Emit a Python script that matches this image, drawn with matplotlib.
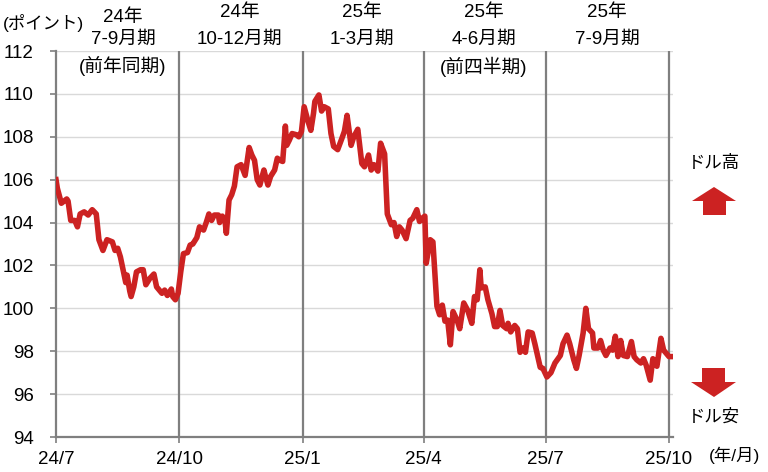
import numpy as np
import pandas as pd
import matplotlib
matplotlib.use("Agg")
import matplotlib.pyplot as plt
import matplotlib.dates as mdates
from matplotlib.patches import Polygon

plt.rcParams['font.family'] = ['Liberation Sans', 'Noto Sans CJK JP', 'DejaVu Sans']

# dollar index
dates = ["2024-07-01", "2024-07-02", "2024-07-05", "2024-07-09", "2024-07-10", "2024-07-12",
         "2024-07-15", "2024-07-17", "2024-07-19", "2024-07-22", "2024-07-25", "2024-07-28",
         "2024-07-31", "2024-08-02", "2024-08-05", "2024-08-08", "2024-08-12", "2024-08-14",
         "2024-08-16", "2024-08-18", "2024-08-20", "2024-08-22", "2024-08-23", "2024-08-25",
         "2024-08-26", "2024-08-28", "2024-08-30", "2024-09-02", "2024-09-04", "2024-09-06",
         "2024-09-09", "2024-09-12", "2024-09-14", "2024-09-18", "2024-09-20", "2024-09-22",
         "2024-09-25", "2024-09-26", "2024-09-28", "2024-09-30", "2024-10-02", "2024-10-04",
         "2024-10-07", "2024-10-09", "2024-10-11", "2024-10-14", "2024-10-16", "2024-10-19",
         "2024-10-21", "2024-10-23", "2024-10-25", "2024-10-27", "2024-10-30", "2024-10-31",
         "2024-11-02", "2024-11-04", "2024-11-05", "2024-11-07", "2024-11-09", "2024-11-11",
         "2024-11-13", "2024-11-16", "2024-11-19", "2024-11-22", "2024-11-24", "2024-11-26",
         "2024-11-28", "2024-11-30", "2024-12-03", "2024-12-04", "2024-12-06", "2024-12-08",
         "2024-12-11", "2024-12-13", "2024-12-15", "2024-12-17", "2024-12-19", "2024-12-20",
         "2024-12-22", "2024-12-24", "2024-12-27", "2024-12-29", "2024-12-31", "2025-01-02",
         "2025-01-05", "2025-01-07", "2025-01-09", "2025-01-10", "2025-01-13", "2025-01-15",
         "2025-01-17", "2025-01-20", "2025-01-22", "2025-01-24", "2025-01-27", "2025-01-30",
         "2025-02-01", "2025-02-03", "2025-02-06", "2025-02-08", "2025-02-11", "2025-02-14",
         "2025-02-16", "2025-02-19", "2025-02-21", "2025-02-23", "2025-02-26", "2025-02-28",
         "2025-03-03", "2025-03-05", "2025-03-08", "2025-03-10", "2025-03-12", "2025-03-14",
         "2025-03-16", "2025-03-19", "2025-03-22", "2025-03-24", "2025-03-27", "2025-03-29",
         "2025-03-31", "2025-04-02", "2025-04-03", "2025-04-06", "2025-04-08", "2025-04-11",
         "2025-04-13", "2025-04-15", "2025-04-17", "2025-04-19", "2025-04-21", "2025-04-23",
         "2025-04-26", "2025-04-28", "2025-05-01", "2025-05-04", "2025-05-07", "2025-05-09",
         "2025-05-11", "2025-05-13", "2025-05-14", "2025-05-17", "2025-05-19", "2025-05-22",
         "2025-05-24", "2025-05-26", "2025-05-28", "2025-05-30", "2025-06-02", "2025-06-03",
         "2025-06-05", "2025-06-08", "2025-06-10", "2025-06-12", "2025-06-14", "2025-06-16",
         "2025-06-18", "2025-06-21", "2025-06-23", "2025-06-25", "2025-06-27", "2025-06-29",
         "2025-07-02", "2025-07-05", "2025-07-08", "2025-07-12", "2025-07-14", "2025-07-17",
         "2025-07-19", "2025-07-22", "2025-07-24", "2025-07-26", "2025-07-29", "2025-07-31",
         "2025-08-02", "2025-08-05", "2025-08-06", "2025-08-09", "2025-08-11", "2025-08-13",
         "2025-08-15", "2025-08-18", "2025-08-20", "2025-08-22", "2025-08-24", "2025-08-26",
         "2025-08-28", "2025-08-31", "2025-09-03", "2025-09-05", "2025-09-07", "2025-09-10",
         "2025-09-12", "2025-09-14", "2025-09-17", "2025-09-19", "2025-09-22", "2025-09-25",
         "2025-09-27", "2025-10-01", "2025-10-04"]
values = [106.0, 105.6, 104.9, 105.1, 105.0, 104.1,
          104.1, 103.8, 104.4, 104.5, 104.35, 104.6,
          104.4, 103.2, 102.7, 103.2, 103.1, 102.7,
          102.8, 102.4, 101.8, 101.2, 101.55, 100.8,
          100.55, 101.0, 101.7, 101.8, 101.8, 101.1,
          101.4, 101.6, 101.0, 100.7, 100.85, 100.6,
          100.9, 100.55, 100.4, 100.7, 101.7, 102.55,
          102.6, 102.95, 103.0, 103.3, 103.8, 103.65,
          104.0, 104.4, 104.1, 104.35, 104.35, 104.0,
          104.3, 104.1, 103.5, 105.05, 105.3, 105.7,
          106.6, 106.7, 106.2, 107.5, 107.15, 106.9,
          106.0, 105.75, 106.45, 106.2, 105.75, 106.15,
          106.45, 107.0, 106.9, 106.85, 108.5, 107.6,
          107.85, 108.15, 108.1, 108.0, 108.25, 109.4,
          108.7, 108.3, 109.1, 109.65, 109.95, 109.2,
          109.4, 109.3, 108.15, 107.55, 107.4, 107.9,
          108.25, 109.0, 107.6, 108.0, 108.35, 106.75,
          106.6, 107.15, 106.45, 106.7, 106.4, 107.7,
          107.2, 104.4, 103.9, 104.0, 103.35, 103.8,
          103.65, 103.25, 104.1, 104.2, 104.6, 104.05,
          104.2, 104.3, 102.1, 103.2, 103.1, 100.1,
          99.7, 100.15, 99.4, 99.45, 98.3, 99.85,
          99.45, 99.05, 100.25, 99.9, 99.3, 100.55,
          100.4, 101.8, 100.95, 101.0, 100.4, 99.75,
          99.15, 99.15, 99.9, 99.2, 99.05, 99.3,
          98.9, 99.2, 99.05, 97.95, 98.15, 97.95,
          98.9, 98.85, 98.35, 97.8, 97.25, 97.2,
          96.8, 97.0, 97.45, 97.8, 98.35, 98.75,
          98.35, 97.6, 97.2, 97.8, 98.85, 100.0,
          99.05, 98.85, 98.15, 98.15, 98.5, 98.05,
          97.8, 98.15, 98.05, 98.7, 97.75, 98.5,
          97.8, 97.75, 98.45, 97.75, 97.6, 97.45,
          97.65, 97.35, 96.65, 97.65, 97.3, 98.6,
          98.05, 97.75, 97.75]

quarter_starts = ["2024-07-01", "2024-10-01", "2025-01-01", "2025-04-01", "2025-07-01", "2025-10-01"]
quarter_labels = ["24/7", "24/10", "25/1", "25/4", "25/7", "25/10"]
header_x = ["2024-08-20", "2024-11-15", "2025-02-14", "2025-05-16", "2025-08-16"]
header_year = ["24年", "24年", "25年", "25年", "25年"]
header_period = ["7-9月期", "10-12月期", "1-3月期", "4-6月期", "7-9月期"]
header_note = ["(前年同期)", "", "", "(前四半期)", ""]

red = '#cc2222'
grey = '#7f7f7f'

x = pd.to_datetime(dates)
qx = pd.to_datetime(quarter_starts)
hx = pd.to_datetime(header_x)

fig = plt.figure(figsize=(7.68, 4.72), dpi=100)
ax = fig.add_axes([56/768, 1-437/472, (673-56)/768, (437-51)/472])

ax.set_ylim(94, 112)
ax.set_xlim(pd.Timestamp("2024-07-01"), pd.Timestamp("2025-10-04"))
ax.set_yticks(np.arange(94, 113, 2))
ax.grid(axis='y', color='#d9d9d9', linewidth=1)
ax.set_axisbelow(True)

for q in qx[1:]:
    ax.axvline(q, color=grey, linewidth=1.6, zorder=1)

ax.plot(x, values, color=red, linewidth=4.0, solid_joinstyle='round', zorder=3)

ax.set_xticks(qx)
ax.set_xticklabels(quarter_labels)
for s in ['top', 'right']:
    ax.spines[s].set_visible(False)
for s in ['left', 'bottom']:
    ax.spines[s].set_color(grey)
    ax.spines[s].set_linewidth(1.6)
ax.tick_params(axis='y', length=4, width=1.2, color=grey, pad=12, labelsize=13.5)
ax.tick_params(axis='x', length=4, width=1.2, color=grey, pad=6, labelsize=13.5)

# quarter headers
trans = ax.get_xaxis_transform()
for i in range(len(hx)):
    y1 = 1.088 if i == 0 else 1.101
    ax.text(hx[i], y1, header_year[i], transform=trans, ha='center', va='center', fontsize=13.5, clip_on=False)
    ax.text(hx[i], 1.030, header_period[i], transform=trans, ha='center', va='center', fontsize=13.5, clip_on=False)
    if header_note[i]:
        ax.text(hx[i], 0.960, header_note[i], transform=trans, ha='center', va='center', fontsize=13.5)


def fpt(px, py):
    return (px / 768, 1 - py / 472)


fig.text(*fpt(43, 23), "(ポイント)", ha='center', va='center', fontsize=12.5)
fig.text(*fpt(734, 455), "(年/月)", ha='center', va='center', fontsize=12.5)
fig.text(*fpt(714, 163), "ドル高", ha='center', va='center', fontsize=12.5)
fig.text(*fpt(714, 417), "ドル安", ha='center', va='center', fontsize=12.5)

up = [fpt(714, 187), fpt(736, 201), fpt(726, 201), fpt(726, 215),
      fpt(703, 215), fpt(703, 201), fpt(692, 201)]
down = [fpt(702, 368), fpt(725, 368), fpt(725, 382), fpt(736, 382),
        fpt(714, 397), fpt(691, 382), fpt(702, 382)]
for pts in (up, down):
    fig.add_artist(Polygon(pts, closed=True, facecolor=red, edgecolor='none', transform=fig.transFigure))

fig.savefig('out.png', dpi=100)
